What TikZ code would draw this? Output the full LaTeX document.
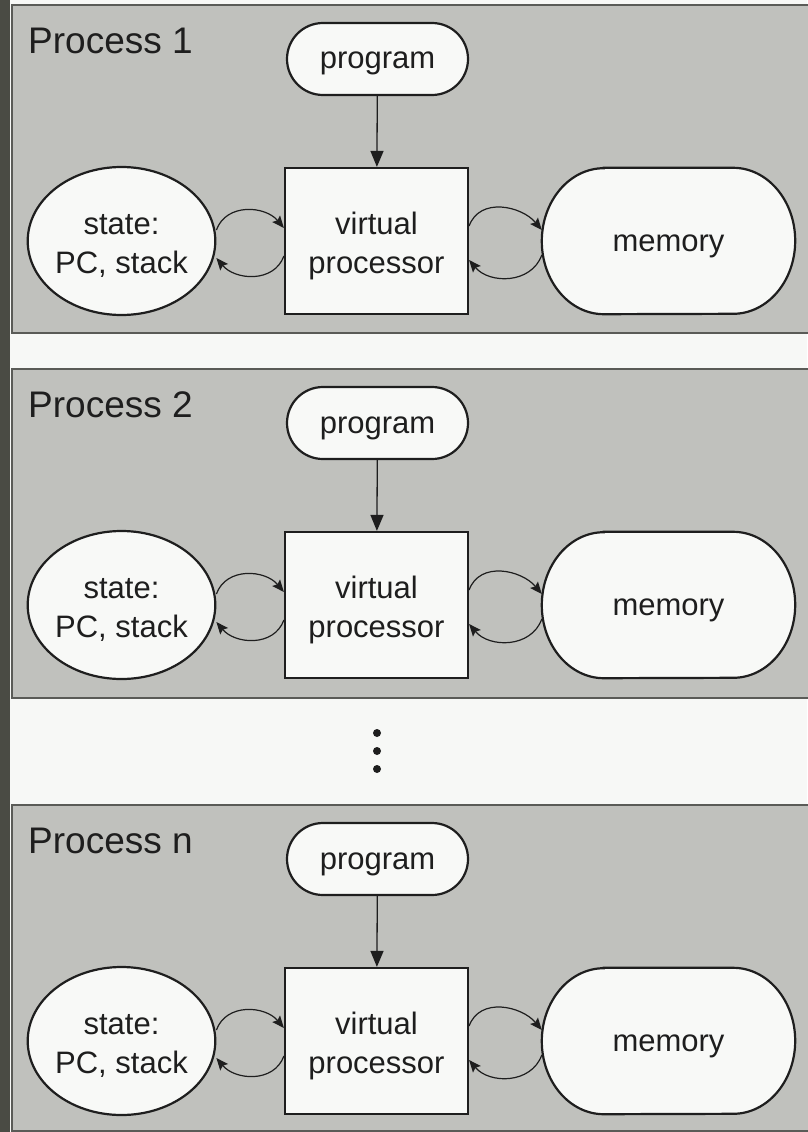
\documentclass[tikz,border=0pt]{standalone}
\usepackage{fontspec}
\setmainfont{Liberation Sans}
\usetikzlibrary{shapes.geometric,shapes.misc,arrows.meta}
\pgfdeclarelayer{back}
\pgfsetlayers{back,main}
\definecolor{pagebg}{HTML}{F7F8F6}
\definecolor{stripgray}{HTML}{4A4B44}
\definecolor{panelgray}{HTML}{C0C1BD}
\definecolor{panelline}{HTML}{5A5B57}
\definecolor{boxfill}{HTML}{F8F9F7}
\definecolor{ink}{HTML}{1E1E1E}
\begin{document}
\begin{tikzpicture}[x=1pt,y=1pt,
  panel/.style={rectangle, draw=panelline, fill=panelgray, line width=2pt, inner sep=0pt},
  plabel/.style={text=ink, inner sep=0pt, font=\fontsize{37}{40}\selectfont},
  txt/.style={text=ink, align=center, inner sep=0pt, font=\fontsize{31}{39}\selectfont},
  oneline/.style={text height=20pt, text depth=0pt},
  twoline/.style={text height=64pt, text depth=0pt},
  pill/.style={txt, oneline, rounded rectangle, draw=ink, fill=boxfill, line width=2.2pt,
    minimum width=181pt, minimum height=72pt},
  procbox/.style={txt, twoline, rectangle, draw=ink, fill=boxfill, line width=2.2pt,
    minimum width=183pt, minimum height=146pt},
  stateshape/.style={txt, twoline, ellipse, draw=ink, fill=boxfill, line width=2.2pt,
    minimum width=183pt, minimum height=148pt},
  memnode/.style={txt, text height=20pt, text depth=0pt, rectangle,
    minimum width=253pt, minimum height=146pt},
  memline/.style={draw=ink, fill=boxfill, line width=2.2pt},
  downarrow/.style={draw=ink, line width=1.3pt, -{Triangle[length=16pt,width=13pt]}},
  loop/.style={draw=ink, line width=1.2pt, looseness=1.1, -{Stealth[length=12pt,width=10pt,inset=2pt]}},
  dot/.style={circle, fill=ink, inner sep=0pt, minimum width=7pt, minimum height=8pt}
]
\useasboundingbox (0,0) rectangle (807,-1132);
\clip (0,0) rectangle (807,-1132);

% page and dark left margin, kept beneath everything else
\begin{pgfonlayer}{back}
  \fill[pagebg] (0,0) rectangle (807,-1132);
  \fill[stripgray] (0,0) rectangle (9.5,-1132);
\end{pgfonlayer}

\foreach \i/\oy/\ph/\n in {1/0/328/1, 2/364/329/2, 3/800/326/n}{
  \begin{scope}[yshift=-\oy pt]
    \begin{pgfonlayer}{back}
      \node[panel, anchor=north west, minimum width=830pt, minimum height=\ph pt]
        (pn\i) at (11,-4) {};
    \end{pgfonlayer}
    \node[plabel, anchor=base west] (lb\i) at (28,-53) {Process \n};

    \node[pill] (pg\i) at (377.5,-59) {program};
    \node[procbox] (vp\i) at (376.5,-241) {virtual\\processor};
    \node[stateshape] (st\i) at (121.5,-241) {state:\\PC, stack};
    \node[memnode] (mem\i) at (668.5,-241) {memory};

    % memory outline: flat top and bottom, elliptical ends
    \begin{pgfonlayer}{back}
      \path[memline] ([xshift=62pt]mem\i.north west) -- ([xshift=-62pt]mem\i.north east)
        arc[start angle=90, end angle=-90, x radius=62pt, y radius=73pt]
        -- ([xshift=62pt]mem\i.south west)
        arc[start angle=270, end angle=90, x radius=62pt, y radius=73pt] -- cycle;
    \end{pgfonlayer}

    \draw[downarrow] (pg\i) -- (vp\i);

    % exchange loops between state, processor and memory
    \draw[loop] ([yshift=11pt]st\i.east) to[out=70, in=130] ([yshift=13pt]vp\i.west);
    \draw[loop] ([yshift=-15pt]vp\i.west) to[out=-110, in=-50] ([yshift=-17pt]st\i.east);
    \draw[loop] ([yshift=15pt]vp\i.east) to[out=70, in=130] ([yshift=11pt]mem\i.west);
    \draw[loop] ([yshift=-14pt]mem\i.west) to[out=-110, in=-50] ([yshift=-19pt]vp\i.east);
  \end{scope}
}

% ellipsis between the second and last process
\node[dot] (d1) at (377,-733) {};
\node[dot] (d2) at (377,-751) {};
\node[dot] (d3) at (377,-769) {};
\end{tikzpicture}
\end{document}
